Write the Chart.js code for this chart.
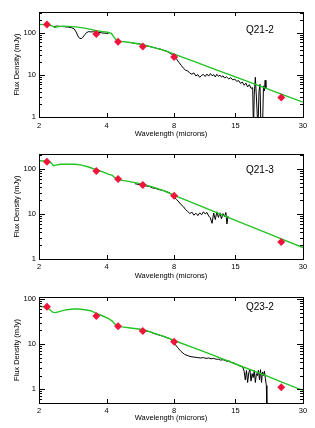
<!DOCTYPE html>
<html>
<head>
<meta charset="utf-8">
<script src="https://cdn.jsdelivr.net/npm/chart.js@4.4.1/dist/chart.umd.min.js"></script>
<style>
  html, body { margin: 0; padding: 0; background: #fff; }
  #wrap { position: relative; width: 315px; height: 428px; }
  .panel { position: absolute; left: 0; width: 315px; }
  canvas { display: block; }
</style>
</head>
<body>
<div id="wrap">
  <div class="panel" style="top:0"><canvas id="c1" width="315" height="140"></canvas></div>
  <div class="panel" style="top:140px"><canvas id="c2" width="315" height="142"></canvas></div>
  <div class="panel" style="top:282px"><canvas id="c3" width="315" height="146"></canvas></div>
</div>
<script>
// axis ticks
const xTicks = [2, 4, 8, 15, 30];
const yTicks = [1, 10, 100];

// photometry wavelengths (K, IRAC 3.6/4.5/5.8/8.0, MIPS 24)
const photWave = [2.17, 3.6, 4.5, 5.8, 8.0, 24];

// Q21-2
const q212Phot = [160, 95, 62, 48, 27, 2.9];
const q212Model = [
  [2.0,160],[2.1,158],[2.2,155],[2.3,146],[2.35,136],[2.42,142],[2.55,145],[2.7,144],
  [2.9,140],[3.15,132],[3.4,122],[3.6,113],[3.85,108],[4.05,104],[4.2,98],[4.3,82],
  [4.4,70],[4.5,64],[5.0,60],[5.7,54],[6.5,45],[7.3,38],[8.0,31.5],[10,20.2],[12,14],
  [15,9],[20,5.05],[24,3.5],[30,2.25]
];
const q212Spec = [
  [2.33,142],[2.4,146],[2.5,143],[2.6,141],[2.7,138],[2.8,133],[2.87,125],[2.93,105],
  [2.98,85],[3.03,75],[3.08,73],[3.13,78],[3.2,92],[3.27,103],[3.33,108],[3.4,106],
  [3.5,107],[3.6,104],[3.7,103],[3.8,101],[3.9,99],[4.0,98],[4.08,97],[4.1,null],
  [5.2,58],[5.4,56],[5.6,55],[5.8,52],[6.0,50],[6.2,48],[6.4,46],[6.6,44],[6.8,42],
  [7.0,41],[7.2,38],[7.4,37],[7.6,34],[7.8,31],[8.0,28],[8.2,24],[8.4,20],[8.6,17],
  [8.8,14.5],[9.0,13],[9.2,12.5],[9.4,11],[9.6,10.5],[9.8,11.2],[10.0,9.5],[10.2,10.2],
  [10.4,8.8],[10.6,9.8],[10.8,10.3],[11.0,9.2],[11.2,10.5],[11.4,9.4],[11.6,10.8],
  [11.8,9.6],[12.0,10.2],[12.2,9.0],[12.4,10.4],[12.6,9.3],[12.8,9.9],[13.0,8.9],
  [13.2,9.6],[13.4,8.5],[13.7,9.0],[14.0,8.1],[14.3,8.6],[14.6,7.6],[14.9,8.0],
  [15.2,7.0],[15.5,7.4],[15.8,6.3],[16.1,6.8],[16.4,5.7],[16.7,6.4],[17.0,5.2],
  [17.3,5.9],[17.6,4.8],[17.9,5.0],[18.05,0.5],[18.2,3.5],[18.4,8.8],[18.6,3.0],
  [18.9,0.5],[19.1,4.0],[19.3,6.0],[19.5,0.5],[19.8,0.5],[20.0,5.5],[20.2,4.2],
  [20.35,7.5],[20.5,4.8]
];

// Q21-3
const q213Phot = [145, 90, 60, 44, 25.5, 2.4];
const q213Model = [
  [2.0,152],[2.1,150],[2.2,145],[2.27,135],[2.32,118],[2.38,122],[2.5,127],[2.7,128],
  [2.9,127],[3.1,122],[3.3,112],[3.6,96],[3.85,86],[4.1,76],[4.25,72],[4.35,64],
  [4.5,58],[5.0,53],[5.8,46],[6.5,39],[7.3,32],[8.0,26],[10,16.5],[12,11.4],[15,7.2],
  [20,4.05],[24,2.8],[30,1.8]
];
const q213Spec = [
  [5.35,47],[5.6,45],[5.8,44],[6.0,42],[6.2,41],[6.4,38],[6.6,37],[6.8,35],[7.0,34],
  [7.2,33],[7.4,31],[7.6,30],[7.8,27],[8.0,24],[8.2,21],[8.4,18.5],[8.6,16],[8.8,14.5],
  [9.0,12.5],[9.2,11.3],[9.4,10.2],[9.6,11],[9.8,9.4],[10.0,10.4],[10.2,9.2],[10.4,10.6],
  [10.6,9.6],[10.8,11.2],[11.0,10.0],[11.2,10.8],[11.4,9.0],[11.6,8.2],[11.8,6.2],
  [12.0,10.5],[12.2,7.5],[12.4,11.2],[12.6,8.4],[12.8,10.6],[13.0,7.8],[13.2,10.2],
  [13.4,8.8],[13.6,10.8],[13.75,6.0],[13.9,9.0]
];

// Q23-2
const q232Phot = [67, 42, 25, 19.5, 11.2, 1.09];
const q232Model = [
  [2.0,70],[2.12,66],[2.22,60],[2.3,51],[2.37,50],[2.5,54],[2.66,58],[2.85,60],[3.0,60],
  [3.2,58],[3.4,55],[3.6,48],[3.85,42],[4.1,36.5],[4.25,32],[4.35,28],[4.45,26],[4.7,24],
  [5.2,22.5],[5.8,21],[6.5,17.5],[7.3,14.5],[8.0,12],[10,7.9],[12,5.6],[15,3.6],[20,2.1],
  [24,1.45],[30,0.93]
];
const q232Spec = [
  [5.6,21],[5.9,20],[6.2,19],[6.5,17.2],[6.8,16],[7.1,15],[7.4,14],[7.7,13],[8.0,10.5],
  [8.3,8.3],[8.6,6.8],[8.9,5.9],[9.3,5.4],[9.6,5.2],[9.9,5.1],[10.2,5.0],[10.5,4.9],
  [10.8,5.0],[11.1,4.8],[11.4,4.9],[11.7,4.7],[12.0,4.8],[12.3,4.6],[12.6,4.6],[12.9,4.4],
  [13.2,4.5],[13.5,4.3],[13.8,4.1],[14.1,4.2],[14.4,3.9],[14.7,3.9],[15.0,3.6],[15.3,3.5],
  [15.6,3.3],[15.9,3.2],[16.2,3.0],[16.4,2.5],[16.6,1.6],[16.8,2.6],[17.0,1.4],[17.2,2.3],
  [17.4,2.7],[17.6,1.5],[17.8,2.2],[18.0,1.8],[18.2,2.6],[18.4,1.4],[18.6,2.2],[18.8,2.0],
  [19.0,2.6],[19.2,1.6],[19.4,2.7],[19.6,1.4],[19.8,2.4],[20.0,2.0],[20.2,2.5],[20.4,1.7],
  [20.6,1.2],[20.7,0.4]
];

const GREEN = '#22c322';
const RED = '#f0143c';
const FONT = '"Liberation Sans", Arial, Helvetica, sans-serif';

const pairs = arr => arr.map(([x, y]) => ({ x, y }));
const zip = (xs, ys) => xs.map((x, i) => ({ x, y: ys[i] }));

// frame box with inward ticks (IDL style) + panel name
const frameTicks = {
  id: 'frameTicks',
  afterDatasetsDraw(chart, args, opts) {
    const { ctx, chartArea: a, scales: { x, y } } = chart;
    ctx.save();
    ctx.strokeStyle = '#000';
    ctx.lineWidth = 1;
    ctx.strokeRect(Math.round(a.left) + 0.5, Math.round(a.top) + 0.5,
      Math.round(a.right - a.left), Math.round(a.bottom - a.top));
    ctx.beginPath();
    xTicks.forEach(v => {
      const px = Math.round(x.getPixelForValue(v)) + 0.5;
      ctx.moveTo(px, a.bottom); ctx.lineTo(px, a.bottom - 4);
      ctx.moveTo(px, a.top); ctx.lineTo(px, a.top + 4);
    });
    [0.1, 1, 10, 100, 1000].forEach(d => {
      for (let m = 1; m <= 9; m++) {
        const v = m * d;
        if (v < y.min || v > y.max) continue;
        const len = m === 1 ? 6 : 3;
        const py = Math.round(y.getPixelForValue(v)) + 0.5;
        ctx.moveTo(a.left, py); ctx.lineTo(a.left + len, py);
        ctx.moveTo(a.right, py); ctx.lineTo(a.right - len, py);
      }
    });
    ctx.stroke();
    ctx.fillStyle = '#000';
    ctx.font = '10px ' + FONT;
    ctx.textAlign = 'left';
    ctx.textBaseline = 'middle';
    ctx.fillText(opts.text, a.right - 57, a.top + opts.dy);
    ctx.restore();
  }
};

function makePanel(id, p) {
  const ctx = document.getElementById(id).getContext('2d');
  return new Chart(ctx, {
    type: 'line',
    data: {
      datasets: [
        {
          label: 'photometry',
          data: zip(photWave, p.phot),
          showLine: false,
          pointStyle: 'rectRot',
          pointRadius: 4,
          pointBackgroundColor: RED,
          pointBorderColor: RED,
          pointBorderWidth: 0,
          order: 0,
        },
        {
          label: 'model',
          data: pairs(p.model),
          borderColor: GREEN,
          borderWidth: 1.4,
          pointRadius: 0,
          tension: 0,
          order: 1,
        },
        {
          label: 'spectrum',
          data: pairs(p.spec),
          borderColor: '#000',
          borderWidth: 1,
          pointRadius: 0,
          spanGaps: false,
          order: 2,
        },
      ],
    },
    options: {
      responsive: false,
      animation: false,
      layout: { padding: { top: p.padTop, right: 12, left: 0, bottom: 0 } },
      plugins: {
        legend: { display: false },
        tooltip: { enabled: false },
        frameTicks: { text: p.name, dy: p.nameDy },
      },
      scales: {
        x: {
          type: 'logarithmic',
          min: 2,
          max: 30,
          grid: { display: false, drawTicks: false },
          border: { display: false },
          afterBuildTicks: s => { s.ticks = xTicks.map(v => ({ value: v })); },
          afterFit: s => { s.height = p.xAxisH; },
          ticks: {
            autoSkip: false, maxRotation: 0, padding: p.xTickPad, color: '#000',
            font: { family: FONT, size: 7.5 },
            callback: v => String(v),
          },
          title: {
            display: true, text: 'Wavelength (microns)', color: '#000',
            font: { family: FONT, size: 7.5 },
            padding: { top: 0, bottom: p.xTitlePad },
          },
        },
        y: {
          type: 'logarithmic',
          min: p.yMin,
          max: p.yMax,
          grid: { display: false, drawTicks: false },
          border: { display: false },
          afterBuildTicks: s => { s.ticks = yTicks.map(v => ({ value: v })); },
          afterFit: s => { s.width = 39; },
          ticks: {
            autoSkip: false, padding: 3, color: '#000',
            font: { family: FONT, size: 7.5 },
            callback: v => String(v),
          },
          title: {
            display: true, text: 'Flux Density (mJy)', color: '#000',
            font: { family: FONT, size: 7.5 },
            padding: { top: 12.5, bottom: 0 },
          },
        },
      },
    },
    plugins: [frameTicks],
  });
}

makePanel('c1', { name: 'Q21-2', nameDy: 18, phot: q212Phot, model: q212Model, spec: q212Spec,
  yMin: 1, yMax: 316, padTop: 12, xAxisH: 23, xTickPad: 4.5, xTitlePad: 1.5 });
makePanel('c2', { name: 'Q21-3', nameDy: 16, phot: q213Phot, model: q213Model, spec: q213Spec,
  yMin: 1, yMax: 215, padTop: 14, xAxisH: 23, xTickPad: 3.8, xTitlePad: 1.5 });
makePanel('c3', { name: 'Q23-2', nameDy: 10, phot: q232Phot, model: q232Model, spec: q232Spec,
  yMin: 0.49, yMax: 111, padTop: 15, xAxisH: 25, xTickPad: 3.2, xTitlePad: 5.8 });
</script>
</body>
</html>
